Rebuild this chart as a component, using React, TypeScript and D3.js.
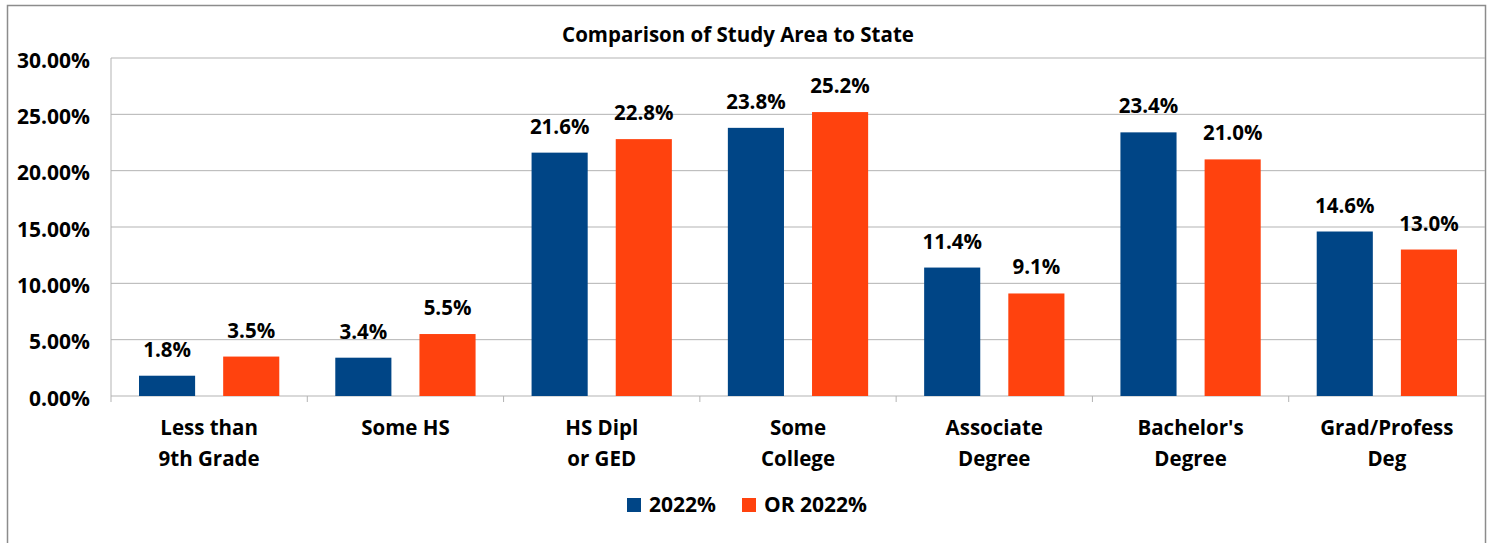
import * as d3 from 'd3';

const categories = [
  ['Less than', '9th Grade'],
  ['Some HS'],
  ['HS Dipl', 'or GED'],
  ['Some', 'College'],
  ['Associate', 'Degree'],
  ["Bachelor's", 'Degree'],
  ['Grad/Profess', 'Deg'],
];
const studyArea = [1.8, 3.4, 21.6, 23.8, 11.4, 23.4, 14.6];
const stateOR = [3.5, 5.5, 22.8, 25.2, 9.1, 21.0, 13.0];
const seriesNames = ['2022%', 'OR 2022%'];
const seriesColors = ['#004586', '#ff420e'];
const yTicks = [0, 5, 10, 15, 20, 25, 30];

const W = 1493;
const H = 543;
const FONT = '"Open Sans", Lato, sans-serif';

export default function App() {
  const left = 111;
  const right = 1485;
  const top = 58;
  const bottom = 396;

  const y = d3.scaleLinear().domain([0, 30]).range([bottom, top]);
  const x0 = d3
    .scaleBand<number>()
    .domain(d3.range(categories.length))
    .range([left, right])
    .paddingInner(0)
    .paddingOuter(0);
  const groupPad = 28;
  const x1 = d3
    .scaleBand<number>()
    .domain([0, 1])
    .range([groupPad, x0.bandwidth() - groupPad])
    .paddingInner(1 / 3)
    .paddingOuter(0);

  const series = [studyArea, stateOR];

  return (
    <svg
      width={W}
      height={H}
      style={{ position: 'absolute', left: 0, top: 0, background: '#fff' }}
      fontFamily={FONT}
    >
      {/* outer frame */}
      <rect x={7.5} y={5.5} width={1478} height={560} fill="#fff" stroke="#8c8c8c" strokeWidth={1.5} />

      <text x={738} y={42} textAnchor="middle" fontSize={20.5} fontWeight="bold" fill="#000">
        Comparison of Study Area to State
      </text>

      {/* gridlines */}
      {yTicks.map((t) => (
        <line key={t} x1={left} x2={right} y1={y(t)} y2={y(t)} stroke="#b3b3b3" strokeWidth={1} />
      ))}
      {/* y axis line */}
      <line x1={left} x2={left} y1={top} y2={bottom + 6} stroke="#b3b3b3" />
      {/* category ticks */}
      {d3.range(1, categories.length).map((i) => (
        <line
          key={i}
          x1={x0(i)!}
          x2={x0(i)!}
          y1={bottom}
          y2={bottom + 6}
          stroke="#b3b3b3"
        />
      ))}

      {/* y tick labels */}
      {yTicks.map((t) => (
        <text
          key={t}
          x={90}
          y={y(t) + 9.5}
          textAnchor="end"
          fontSize={21}
          fontWeight="bold"
          fill="#000"
        >
          {t.toFixed(2)}%
        </text>
      ))}

      {/* bars */}
      {series.map((vals, s) =>
        vals.map((v, i) => {
          const bx = x0(i)! + x1(s)!;
          return (
            <g key={`${s}-${i}`}>
              <rect
                x={bx}
                y={y(v)}
                width={x1.bandwidth()}
                height={bottom - y(v)}
                fill={seriesColors[s]}
              />
              <text
                x={bx + x1.bandwidth() / 2}
                y={y(v) - 19}
                textAnchor="middle"
                fontSize={20.5}
                fontWeight="bold"
                fill="#000"
              >
                {v.toFixed(1)}%
              </text>
            </g>
          );
        })
      )}

      {/* category labels */}
      {categories.map((lines, i) => (
        <text
          key={i}
          x={x0(i)! + x0.bandwidth() / 2}
          y={435}
          textAnchor="middle"
          fontSize={20.5}
          fontWeight="bold"
          fill="#000"
        >
          {lines.map((l, j) => (
            <tspan key={j} x={x0(i)! + x0.bandwidth() / 2} dy={j === 0 ? 0 : 31}>
              {l}
            </tspan>
          ))}
        </text>
      ))}

      {/* legend */}
      {seriesNames.map((name, s) => {
        const lx = [627, 742][s];
        return (
          <g key={name}>
            <rect x={lx} y={498} width={14} height={14} fill={seriesColors[s]} />
            <text x={lx + 22} y={512} fontSize={21} fontWeight="bold" fill="#000">
              {name}
            </text>
          </g>
        );
      })}
    </svg>
  );
}
